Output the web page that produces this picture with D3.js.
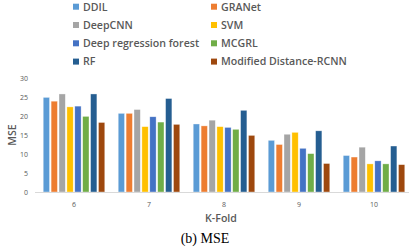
<!DOCTYPE html>
<html>
<head>
<meta charset="utf-8">
<script src="https://cdn.jsdelivr.net/npm/d3@7"></script>
<style>
body { margin: 0; background: #fff; }
</style>
</head>
<body>
<script>
var folds = ["6", "7", "8", "9", "10"];
var methods = ["DDIL", "GRANet", "DeepCNN", "SVM", "Deep regression forest", "MCGRL", "RF", "Modified Distance-RCNN"];
var colors = ["#5B9BD5", "#ED7D31", "#A5A5A5", "#FFC000", "#4472C4", "#70AD47", "#255E91", "#9E480E"];
// one row per method, values per fold
var ddil    = [24.9, 20.7, 17.9, 13.6, 9.6];
var granet  = [23.9, 20.7, 17.4, 12.5, 9.2];
var deepcnn = [25.8, 21.7, 18.9, 15.2, 11.8];
var svm     = [22.4, 17.2, 17.2, 15.7, 7.4];
var drf     = [22.6, 19.8, 17.0, 11.5, 8.2];
var mcgrl   = [19.9, 18.4, 16.5, 10.1, 7.4];
var rf      = [25.8, 24.6, 21.5, 16.1, 12.1];
var mdrcnn  = [18.3, 17.8, 14.9, 7.5, 7.2];
var yTicks = [0, 5, 10, 15, 20, 25, 30];

var series = [ddil, granet, deepcnn, svm, drf, mcgrl, rf, mdrcnn];

var svg = d3.select("body").append("svg")
            .attr("width", 409).attr("height", 249);

var x0 = d3.scaleBand().domain(folds).range([36.5, 411.5]);
var x1 = d3.scaleBand().domain(methods).range([0, x0.bandwidth()])
            .paddingInner(0.2).paddingOuter(0.85);
var y = d3.scaleLinear().domain([0, 30]).range([192, 78]);

// legend
var legend = svg.append("g").selectAll("g")
            .data(methods)
            .enter().append("g")
            .attr("transform", function(d, i){
                return "translate(" + (i % 2 == 0 ? 73 : 211) + "," + (6.7 + Math.floor(i / 2) * 18.3) + ")";
            });
legend.append("rect")
    .attr("x", 0).attr("y", -3)
    .attr("width", 6).attr("height", 6)
    .attr("fill", function(d, i){ return colors[i]; });
legend.append("text")
    .attr("x", 10).attr("y", 3.8)
    .text(function(d){ return d; })
    .style("font-family", "Open Sans, sans-serif")
    .style("font-size", "10.6px")
    .style("font-weight", "600")
    .style("fill", "#595959");

// y axis labels
svg.append("g").selectAll("text")
    .data(yTicks)
    .enter().append("text")
    .attr("x", 28).attr("y", function(d){ return y(d) + 2.5; })
    .attr("text-anchor", "end")
    .text(function(d){ return d; })
    .style("font-family", "Open Sans, sans-serif")
    .style("font-size", "7px")
    .style("fill", "#595959");

// bars
var groups = svg.append("g").selectAll("g")
            .data(folds)
            .enter().append("g")
            .attr("transform", function(d){ return "translate(" + x0(d) + ",0)"; });
groups.selectAll("rect")
    .data(function(d, fi){ return methods.map(function(m, mi){ return {m: m, i: mi, v: series[mi][fi]}; }); })
    .enter().append("rect")
    .attr("x", function(d){ return x1(d.m); })
    .attr("y", function(d){ return y(d.v); })
    .attr("width", x1.bandwidth())
    .attr("height", function(d){ return y(0) - y(d.v); })
    .attr("fill", function(d){ return colors[d.i]; })
    .attr("stroke", "rgba(255,255,255,0.6)")
    .attr("stroke-width", 0.6);

// baseline
svg.append("line")
    .attr("x1", 35).attr("x2", 409)
    .attr("y1", y(0) + 0.5).attr("y2", y(0) + 0.5)
    .attr("stroke", "#d9d9d9").attr("stroke-width", 1);

// x tick labels
svg.append("g").selectAll("text")
    .data(folds)
    .enter().append("text")
    .attr("x", function(d){ return x0(d) + x0.bandwidth() / 2; })
    .attr("y", 206.5)
    .attr("text-anchor", "middle")
    .text(function(d){ return d; })
    .style("font-family", "Open Sans, sans-serif")
    .style("font-size", "7px")
    .style("fill", "#595959");

svg.append("text")
    .attr("x", 221).attr("y", 221.5)
    .attr("text-anchor", "middle")
    .text("K-Fold")
    .style("font-family", "Open Sans, sans-serif")
    .style("font-size", "10.6px")
    .style("font-weight", "600")
    .style("fill", "#595959");

svg.append("text")
    .attr("transform", "translate(16,135) rotate(-90)")
    .attr("text-anchor", "middle")
    .text("MSE")
    .style("font-family", "Open Sans, sans-serif")
    .style("font-size", "10.6px")
    .style("font-weight", "600")
    .style("fill", "#595959");

svg.append("text")
    .attr("x", 205).attr("y", 243)
    .attr("text-anchor", "middle")
    .text("(b) MSE")
    .style("font-family", "Liberation Serif, serif")
    .style("font-size", "14px")
    .style("fill", "#000");
</script>
</body>
</html>
